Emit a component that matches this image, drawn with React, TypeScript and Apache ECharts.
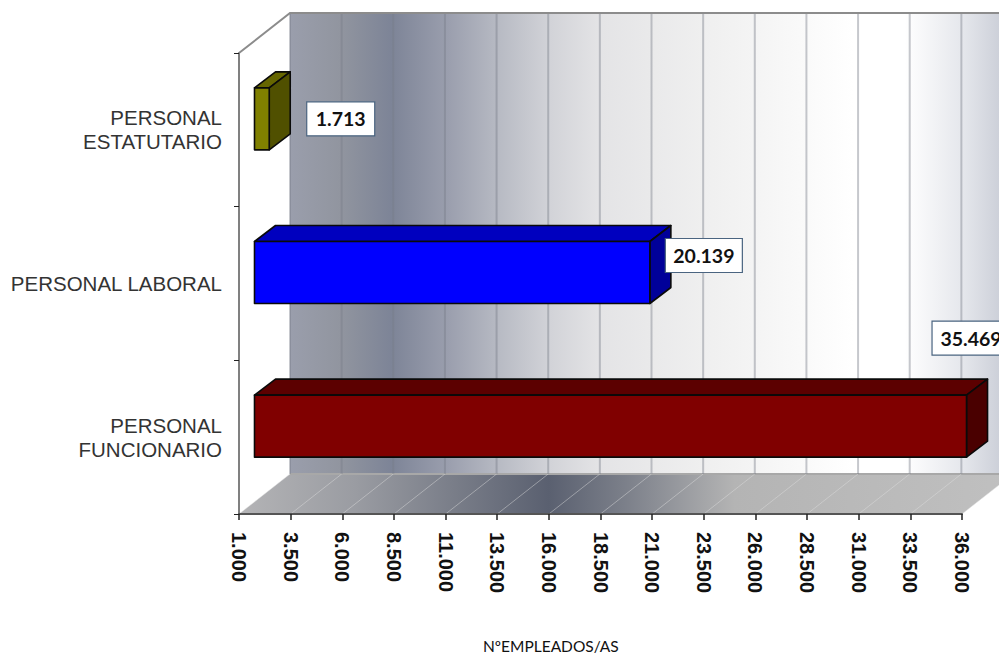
import React, { useEffect, useRef } from "react";
import * as echarts from "echarts";

const categories = ["PERSONAL\nFUNCIONARIO", "PERSONAL LABORAL", "PERSONAL\nESTATUTARIO"];
const employees = [35469, 20139, 1713];
const tickValues = [1000, 3500, 6000, 8500, 11000, 13500, 16000, 18500, 21000, 23500, 26000, 28500, 31000, 33500, 36000];
const barFront = ["#800000", "#0000ff", "#808000"];
const barTop = ["#5c0000", "#0000bf", "#666600"];
const barSide = ["#4a0000", "#000099", "#505000"];

const WALL_DX = 51;
const WALL_DY = 40;
const BAR_X = 15.5;
const BAR_Y = -11;
const BAR_HALF = 31;
const DEPTH_X = 21;
const DEPTH_Y = 16;
const labelBoxes = [
  { dx: -19, dy: -116, w: 78 },
  { dx: 31, dy: -45, w: 77 },
  { dx: 53, dy: -28, w: 68 },
];

const fmt = (v: number) => String(v).replace(/\B(?=(\d{3})+$)/g, ".");

export default function App() {
  const ref = useRef<HTMLDivElement>(null);
  useEffect(() => {
    const chart = echarts.init(ref.current!, null, { renderer: "svg" });
    const wallFill = new echarts.graphic.LinearGradient(0, 0, 1, 0, [
      { offset: 0, color: "#9a9eac" },
      { offset: 0.07, color: "#91959f" },
      { offset: 0.14, color: "#7d8497" },
      { offset: 0.22, color: "#9b9fae" },
      { offset: 0.29, color: "#b8bbc4" },
      { offset: 0.36, color: "#d2d3d8" },
      { offset: 0.43, color: "#e4e4e6" },
      { offset: 0.57, color: "#efefef" },
      { offset: 0.64, color: "#f4f4f4" },
      { offset: 0.78, color: "#ffffff" },
      { offset: 0.85, color: "#ffffff" },
      { offset: 0.93, color: "#e5e7ec" },
      { offset: 1, color: "#c4c8d2" },
    ]);
    const floorFill = new echarts.graphic.LinearGradient(0, 0, 1, 0, [
      { offset: 0, color: "#b4b4b6" },
      { offset: 0.15, color: "#9a9ca2" },
      { offset: 0.4, color: "#5a6070" },
      { offset: 0.5, color: "#7c808a" },
      { offset: 0.64, color: "#b4b4b4" },
      { offset: 1, color: "#c0c0c0" },
    ]);
    chart.setOption({
      animation: false,
      backgroundColor: "#ffffff",
      title: {
        text: "NºEMPLEADOS/AS",
        left: 478,
        top: 633,
        textStyle: { fontFamily: "Lato", fontSize: 15.5, fontWeight: "normal", color: "#111111" },
      },
      grid: { left: 239, right: 37, top: 53, bottom: 145, containLabel: false },
      xAxis: {
        type: "value",
        min: 1000,
        max: 36000,
        z: 5,
        splitLine: { show: false },
        axisLine: { show: true, lineStyle: { color: "#555555", width: 2 } },
        axisTick: { show: true, length: 6, customValues: tickValues, lineStyle: { color: "#222222", width: 1.5 } },
        axisLabel: {
          customValues: tickValues,
          rotate: -90,
          margin: 18,
          formatter: (v: number) => fmt(v),
          fontFamily: "Liberation Sans",
          fontSize: 20,
          fontWeight: "bold",
          color: "#111111",
        },
      },
      yAxis: {
        type: "category",
        data: categories,
        z: 5,
        axisLine: { show: true, lineStyle: { color: "#808080", width: 2 } },
        axisTick: { show: true, length: 5, lineStyle: { color: "#222222" } },
        axisLabel: {
          margin: 17,
          align: "right",
          fontFamily: "Liberation Sans",
          fontSize: 20.5,
          lineHeight: 24,
          color: "#333333",
        },
      },
      series: [
        {
          type: "custom",
          name: "walls",
          z: 1,
          silent: true,
          clip: false,
          data: [[1000, 0]],
          renderItem: (_p: any, api: any) => {
            const a = api.coord([1000, 0]);
            const b = api.coord([36000, 0]);
            const bottom = 514;
            const top = 53;
            const x0 = a[0];
            const x1 = b[0];
            return {
              type: "group",
              children: [
                {
                  type: "rect",
                  shape: { x: x0 + WALL_DX, y: top - WALL_DY, width: x1 - x0, height: bottom - top },
                  style: { fill: wallFill },
                },
                {
                  type: "polygon",
                  shape: {
                    points: [
                      [x0, bottom],
                      [x0 + WALL_DX, bottom - WALL_DY],
                      [x1 + WALL_DX, bottom - WALL_DY],
                      [x1, bottom],
                    ],
                  },
                  style: { fill: floorFill },
                },
                {
                  type: "polyline",
                  shape: {
                    points: [
                      [x0, top],
                      [x0 + WALL_DX, top - WALL_DY],
                      [x1 + WALL_DX, top - WALL_DY],
                    ],
                  },
                  style: { fill: "none", stroke: "#8c8c8c", lineWidth: 2 },
                },
                {
                  type: "line",
                  shape: { x1: x0 + WALL_DX, y1: bottom - WALL_DY, x2: x1 + WALL_DX, y2: bottom - WALL_DY },
                  style: { stroke: "#a8a8a8", lineWidth: 2 },
                },
              ],
            };
          },
        },
        {
          type: "custom",
          name: "gridlines",
          z: 2,
          silent: true,
          clip: false,
          data: tickValues.map((t) => [t, 0]),
          renderItem: (_p: any, api: any) => {
            const x = api.coord([api.value(0), 0])[0];
            return {
              type: "group",
              children: [
                {
                  type: "line",
                  shape: { x1: x + WALL_DX, y1: 14, x2: x + WALL_DX, y2: 474 },
                  style: { stroke: "rgba(120,125,135,0.42)", lineWidth: 2 },
                },
                {
                  type: "line",
                  shape: { x1: x, y1: 514, x2: x + WALL_DX, y2: 474 },
                  style: { stroke: "rgba(225,225,225,0.45)", lineWidth: 1 },
                },
              ],
            };
          },
        },
        {
          type: "custom",
          name: "employees",
          z: 6,
          clip: false,
          encode: { x: 0, y: 1 },
          data: employees.map((v, i) => [v, i]),
          renderItem: (p: any, api: any) => {
            const i = p.dataIndex;
            const end = api.coord([api.value(0), i]);
            const start = api.coord([1000, i]);
            const L = start[0] + BAR_X;
            const R = end[0] + BAR_X;
            const T = end[1] + BAR_Y - BAR_HALF;
            const B = end[1] + BAR_Y + BAR_HALF;
            const stroke = { stroke: "#0a0a0a", lineWidth: 1.6, lineJoin: "round" };
            return {
              type: "group",
              children: [
                {
                  type: "polygon",
                  shape: { points: [[L, T], [L + DEPTH_X, T - DEPTH_Y], [R + DEPTH_X, T - DEPTH_Y], [R, T]] },
                  style: { fill: barTop[i], ...stroke },
                },
                {
                  type: "polygon",
                  shape: { points: [[R, T], [R + DEPTH_X, T - DEPTH_Y], [R + DEPTH_X, B - DEPTH_Y], [R, B]] },
                  style: { fill: barSide[i], ...stroke },
                },
                {
                  type: "rect",
                  shape: { x: L, y: T, width: R - L, height: B - T },
                  style: { fill: barFront[i], ...stroke },
                },
              ],
            };
          },
        },
        {
          type: "custom",
          name: "labels",
          z: 7,
          clip: false,
          data: employees.map((v, i) => [v, i]),
          renderItem: (p: any, api: any) => {
            const i = p.dataIndex;
            const pt = api.coord([api.value(0), i]);
            const box = labelBoxes[i];
            const x = pt[0] + box.dx;
            const y = pt[1] + box.dy;
            return {
              type: "group",
              children: [
                {
                  type: "rect",
                  shape: { x, y, width: box.w, height: 34 },
                  style: { fill: "#ffffff", stroke: "#4a6480", lineWidth: 1.2 },
                },
                {
                  type: "text",
                  x: x + box.w / 2,
                  y: y + 17,
                  style: {
                    text: fmt(api.value(0)),
                    align: "center",
                    verticalAlign: "middle",
                    fontFamily: "Lato",
                    fontWeight: "bold",
                    fontSize: 19.5,
                    fill: "#111111",
                  },
                },
              ],
            };
          },
        },
      ],
    });
    return () => chart.dispose();
  }, []);
  return <div ref={ref} style={{ position: "fixed", left: 0, top: 0, width: 999, height: 659 }} />;
}
